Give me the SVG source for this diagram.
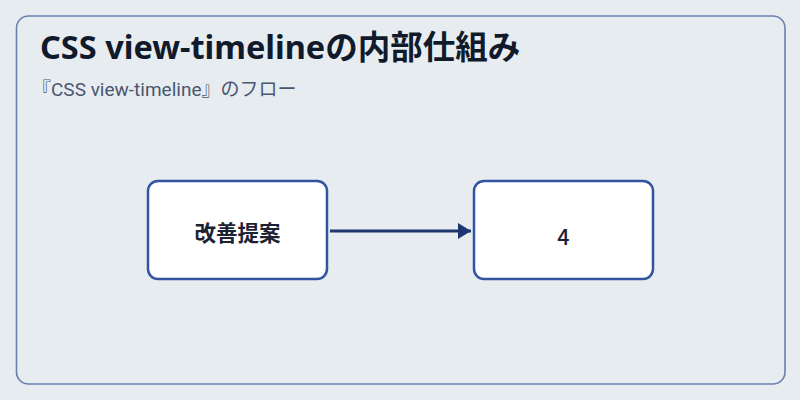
<svg xmlns="http://www.w3.org/2000/svg" width="800" height="400" viewBox="0 0 800 400">
<style>
.node rect{fill:#ffffff;stroke:#3355a0;stroke-width:2.5}
.lbl{font-family:"Noto Sans CJK JP","Noto Sans",sans-serif;font-size:21.5px;font-weight:bold;fill:#1a2233;text-anchor:middle;dominant-baseline:central}
.title{font-family:"Noto Sans","Noto Sans CJK JP",sans-serif;font-size:32.5px;font-weight:bold;fill:#111a2b}
.sub{font-family:Roboto,"Noto Sans CJK JP",sans-serif;font-size:19px;fill:#4a5670}
</style>
<defs>
<marker id="arr" markerWidth="14" markerHeight="16" refX="13" refY="8" orient="auto" markerUnits="userSpaceOnUse">
<path d="M0,0 L13,8 L0,16 z" fill="#1e3670"/>
</marker>
</defs>
<rect width="800" height="400" fill="#e7ecf1"/>
<rect x="16.5" y="16" width="768.5" height="368" rx="12" fill="#e7ecf1" stroke="#6a80ac" stroke-width="1.6"/>
<text class="title" x="40" y="59">CSS view-timelineの内部仕組み</text>
<text class="sub" x="32" y="96">『CSS view-timeline』のフロー</text>
<g id="connectors">
<line x1="330" y1="231" x2="471" y2="231" stroke="#1e3670" stroke-width="3" marker-end="url(#arr)"/>
</g>
<g id="node1" class="node">
<rect x="148" y="181" width="179" height="98" rx="10"/>
<text class="lbl" x="237.5" y="231">改善提案</text>
</g>
<g id="node2" class="node">
<rect x="474" y="181" width="179" height="98" rx="10"/>
<text class="lbl" x="563.5" y="235" style="font-weight:500">4</text>
</g>
</svg>
